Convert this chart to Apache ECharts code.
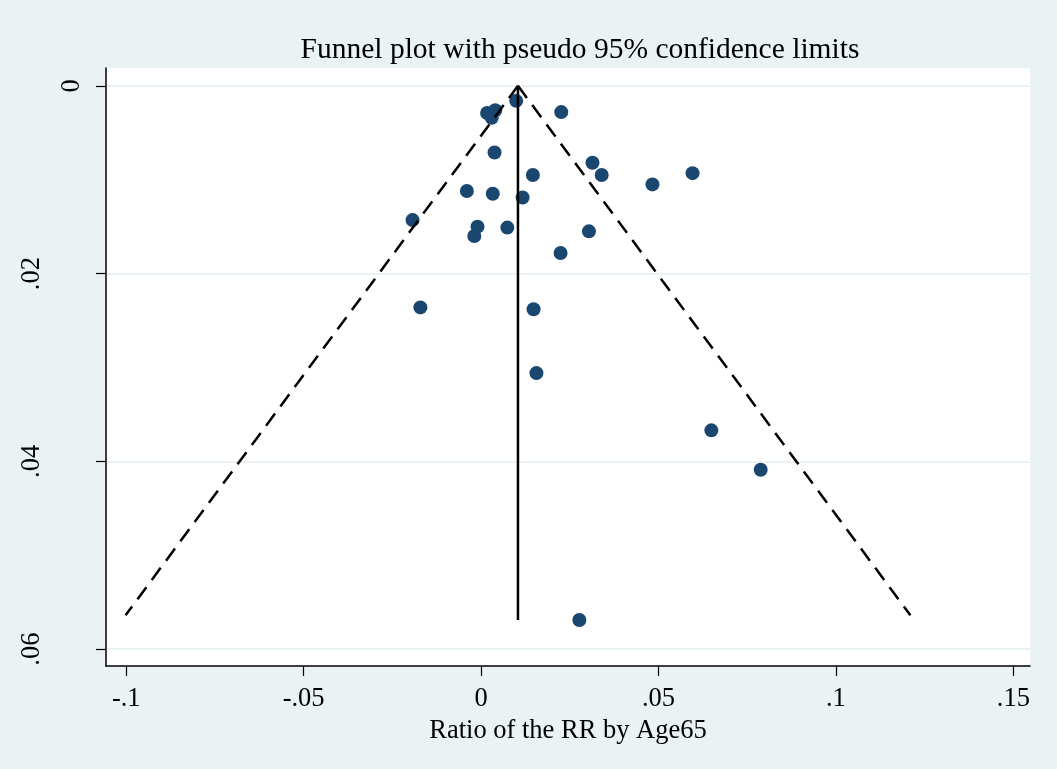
<!DOCTYPE html>
<html>
<head>
<meta charset="utf-8">
<script src="https://cdn.jsdelivr.net/npm/echarts@6/dist/echarts.min.js"></script>
<style>
html,body{margin:0;padding:0;background:#ffffff;}
#chart{width:1057px;height:769px;}
</style>
</head>
<body>
<div id="chart"></div>
<script>
// Study effect (Ratio of the RR by Age65) and its standard error
var effectValues = [0.0099, 0.0226, 0.0017, 0.0040, 0.0030, 0.0038, 0.0314, 0.0340, 0.0146, -0.0040, 0.0033, 0.0117, -0.0193, -0.0010, 0.0074, -0.0019, 0.0304, 0.0224, 0.0483, 0.0596, -0.0171, 0.0148, 0.0156, 0.0649, 0.0788, 0.0277];
var seValues =     [0.0016, 0.0028, 0.0029, 0.0026, 0.0034, 0.0071, 0.0082, 0.0095, 0.0095, 0.0112, 0.0115, 0.0119, 0.0143, 0.0150, 0.0151, 0.0160, 0.0155, 0.0178, 0.0105, 0.0093, 0.0236, 0.0238, 0.0306, 0.0367, 0.0409, 0.0569];

// Pooled estimate line and pseudo 95% limits
var pooledX = [0.0104, 0.0104];
var pooledY = [0, 0.0569];
var lowerLimitX = [0.0104, -0.1002];
var upperLimitX = [0.0104, 0.1210];
var limitY = [0, 0.0564];

var xTickValues = [-0.1, -0.05, 0, 0.05, 0.1, 0.15];
var xTickLabels = ['-.1', '-.05', '0', '.05', '.1', '.15'];
var yTickValues = [0, 0.02, 0.04, 0.06];
var yTickLabels = ['0', '.02', '.04', '.06'];

var titleText = 'Funnel plot with pseudo 95% confidence limits';
var xAxisTitle = 'Ratio of the RR by Age65';

function pairs(xs, ys) { return xs.map(function (x, i) { return [x, ys[i]]; }); }
function labelFor(values, labels, v) {
  for (var i = 0; i < values.length; i++) { if (Math.abs(values[i] - v) < 1e-9) return labels[i]; }
  return '';
}

var FONT = '"Liberation Serif", "Times New Roman", serif';
var chart = echarts.init(document.getElementById('chart'), null, {renderer: 'canvas'});
chart.setOption({
  animation: false,
  backgroundColor: '#EAF2F3',
  title: {
    text: titleText, left: 575, textAlign: 'center', top: 30,
    textStyle: {fontFamily: FONT, fontSize: 29.5, fontWeight: 'normal', color: '#000'}
  },
  grid: {left: 106, right: 27, top: 68, bottom: 103, show: true, backgroundColor: '#ffffff', borderWidth: 0},
  xAxis: {
    type: 'value', min: -0.1057, max: 0.1547,
    name: xAxisTitle, nameLocation: 'middle', nameGap: 47,
    nameTextStyle: {fontFamily: FONT, fontSize: 26.5, color: '#000'},
    axisLine: {show: true, onZero: false, lineStyle: {color: '#000', width: 1.5}},
    axisTick: {show: true, length: 10, customValues: xTickValues, lineStyle: {color: '#000', width: 1.2}},
    axisLabel: {
      customValues: xTickValues, margin: 20,
      fontFamily: FONT, fontSize: 26.5, color: '#000',
      formatter: function (v) { return labelFor(xTickValues, xTickLabels, v); }
    },
    splitLine: {show: false}
  },
  yAxis: {
    type: 'value', inverse: true, min: -0.0019, max: 0.0618,
    axisLine: {show: true, onZero: false, lineStyle: {color: '#000', width: 1.5}},
    axisTick: {show: true, length: 10, customValues: yTickValues, lineStyle: {color: '#000', width: 1.2}},
    axisLabel: {
      customValues: yTickValues, rotate: 90, margin: 20,
      fontFamily: FONT, fontSize: 26.5, color: '#000',
      formatter: function (v) {
        var t = labelFor(yTickValues, yTickLabels, v);
        return v === 0 ? '{z|' + t + '}' : '{o|' + t + '}';
      },
      rich: {
        z: {fontFamily: FONT, fontSize: 26.5, color: '#000'},
        o: {fontFamily: FONT, fontSize: 26.5, color: '#000', padding: [0, 0, 40, 0]}
      }
    },
    splitLine: {show: true, lineStyle: {color: '#EAF2F3', width: 2}}
  },
  series: [
    {
      type: 'scatter', name: 'studies', data: pairs(effectValues, seValues),
      symbol: 'circle', symbolSize: 14, itemStyle: {color: '#1A476F', opacity: 1}, z: 3
    },
    {
      type: 'line', data: pairs(pooledX, pooledY), symbol: 'none', z: 4,
      lineStyle: {color: '#000', width: 2.5}
    },
    {
      type: 'line', data: pairs(lowerLimitX, limitY), symbol: 'none', z: 4,
      lineStyle: {color: '#000', width: 2.5, type: [15, 9]}
    },
    {
      type: 'line', data: pairs(upperLimitX, limitY), symbol: 'none', z: 4,
      lineStyle: {color: '#000', width: 2.5, type: [15, 9]}
    }
  ]
});
</script>
</body>
</html>
